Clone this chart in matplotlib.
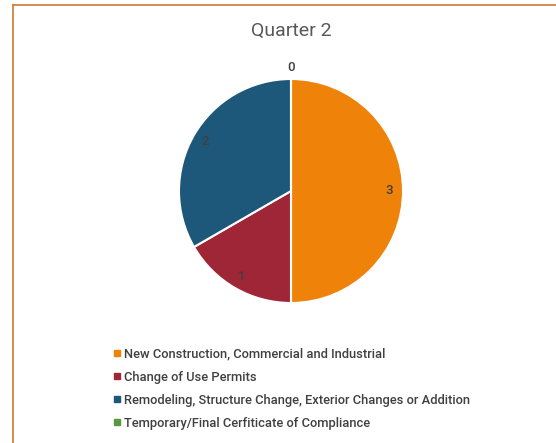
import numpy as np
import matplotlib.pyplot as plt
from matplotlib.lines import Line2D

# data
categories = ['New Construction, Commercial and Industrial',
              'Change of Use Permits',
              'Remodeling, Structure Change, Exterior Changes or Addition',
              'Temporary/Final Cerfiticate of Compliance']
values = [3, 1, 2, 0]
colors = ['#EF8209', '#9F2637', '#1D5779', '#56993F']
title = 'Quarter 2'

W, H = 556, 443
fig = plt.figure(figsize=(W / 100, H / 100), dpi=100)

# pie centred at (291, 191) px, radius 112 px
cx, cy, r = 291, 191, 112
ax = fig.add_axes([(cx - r) / W, (H - cy - r) / H, 2 * r / W, 2 * r / H])
wedges, _ = ax.pie(values, colors=colors, startangle=90, counterclock=False,
                   radius=1, wedgeprops=dict(edgecolor='white', linewidth=1.5))
ax.set_xlim(-1, 1)
ax.set_ylim(-1, 1)
ax.set_aspect('auto')

# data labels
tot = sum(values)
start = 90.0
for v in values:
    sweep = 360.0 * v / tot
    mid = np.deg2rad(start - sweep / 2)
    d = 0.88 if v > 0 else 1.1
    ax.text(d * np.cos(mid), d * np.sin(mid), str(v), ha='center', va='center',
            fontsize=9.5, color='#404040', family='Roboto', fontweight='medium',
            clip_on=False)
    start -= sweep

fig.text(cx / W, 1 - 31 / H, title, ha='center', va='center',
         fontsize=14, color='#595959', family='Roboto')

# legend
handles = [Line2D([], [], marker='s', linestyle='none', markersize=4,
                  markerfacecolor=c, markeredgecolor=c) for c in colors]
fig.legend(handles, categories, loc='upper left',
           bbox_to_anchor=(101 / W, 1 - 336 / H), frameon=False,
           handlelength=0.6, handletextpad=0.25, labelspacing=0.78,
           prop=dict(family='Roboto', size=9.3, weight='medium'),
           labelcolor='#404040')

# chart-area border (top and left edges visible)
bc = '#D4782F'
fig.add_artist(Line2D([13 / W, 1], [1 - 5 / H, 1 - 5 / H], color=bc, linewidth=1.2))
fig.add_artist(Line2D([13 / W, 13 / W], [0, 1 - 5 / H], color=bc, linewidth=1.2))

fig.savefig('out.png', dpi=100)
